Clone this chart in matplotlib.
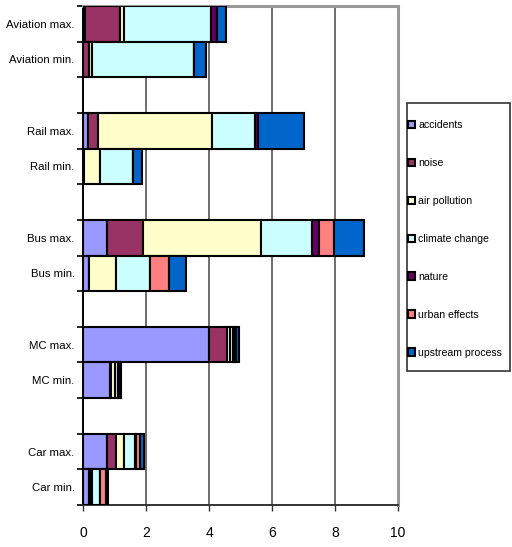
import numpy as np
import matplotlib.pyplot as plt
from matplotlib.patches import Rectangle

# external cost components per mode (same order as the stacked segments)
components = ['accidents', 'noise', 'air pollution', 'climate change',
              'nature', 'urban effects', 'upstream process']
colors = ['#9999FF', '#993366', '#FFFFCC', '#CCFFFF', '#660066', '#FF8080', '#0066CC']

modes = ['Aviation max.', 'Aviation min.', 'Rail max.', 'Rail min.',
         'Bus max.', 'Bus min.', 'MC max.', 'MC min.', 'Car max.', 'Car min.']

accidents      = [0.05, 0.00, 0.17, 0.02, 0.75, 0.20, 3.99, 0.86, 0.75, 0.20]
noise          = [1.12, 0.18, 0.32, 0.00, 1.14, 0.00, 0.57, 0.02, 0.30, 0.02]
air_pollution  = [0.13, 0.10, 3.61, 0.52, 3.75, 0.84, 0.10, 0.14, 0.25, 0.08]
climate_change = [2.75, 3.24, 1.35, 1.06, 1.64, 1.09, 0.10, 0.08, 0.35, 0.24]
nature         = [0.19, 0.00, 0.12, 0.00, 0.20, 0.00, 0.05, 0.00, 0.02, 0.00]
urban_effects  = [0.00, 0.00, 0.00, 0.00, 0.50, 0.61, 0.05, 0.08, 0.14, 0.19]
upstream       = [0.29, 0.37, 1.46, 0.26, 0.95, 0.53, 0.08, 0.04, 0.13, 0.07]

xticks = [0, 2, 4, 6, 8, 10]

series = [accidents, noise, air_pollution, climate_change, nature, urban_effects, upstream]

plt.rcParams['font.family'] = ['Liberation Sans', 'DejaVu Sans']

fig = plt.figure(figsize=(5.12, 5.47), dpi=100)
ax = fig.add_axes([83 / 512, 1 - 505 / 547, 315 / 512, 499 / 547])

# two bars per mode, one empty slot between modes
pos = []
for i in range(len(modes)):
    pos.append((i // 2) * 3 + i % 2)
pos = np.array(pos, dtype=float)

left = np.zeros(len(modes))
for vals, name, c in zip(series, components, colors):
    vals = np.array(vals)
    ax.barh(pos, vals, left=left, height=1.0, color=c, edgecolor='black',
            linewidth=1.5, label=name, zorder=3)
    left += vals

ax.set_xlim(0, 10)
ax.set_ylim(13.5, -0.5)
ax.set_xticks(xticks)
ax.set_xticklabels([str(t) for t in xticks], fontsize=10)
ax.tick_params(axis='x', length=4, width=1, color='#333333', pad=11)
ax.grid(axis='x', color='#555555', linewidth=1.2, zorder=0)

ax.set_yticks(pos)
ax.set_yticklabels(modes, fontsize=8.2)
ax.tick_params(axis='y', which='major', length=0, pad=6)
edges = sorted(set(list(pos - 0.5) + list(pos + 0.5)))
ax.set_yticks(edges, minor=True)
ax.tick_params(axis='y', which='minor', length=4, width=1.2, color='black')

ax.spines['left'].set_color('black')
ax.spines['left'].set_linewidth(1.4)
ax.spines['bottom'].set_color('#333333')
ax.spines['bottom'].set_linewidth(1.4)
ax.spines['top'].set_color('#999999')
ax.spines['top'].set_linewidth(2.2)
ax.spines['right'].set_color('#999999')
ax.spines['right'].set_linewidth(2.2)

# legend box on the right, drawn separately so entries sit close to its edge
fig.patches.append(Rectangle((407 / 512, 1 - 371 / 547), 103 / 512, 268 / 547,
                             transform=fig.transFigure, facecolor='white',
                             edgecolor='#333333', linewidth=1.2))
fig.legend(loc='upper left', bbox_to_anchor=(408 / 512, 1 - 120 / 547),
           fontsize=7.6, frameon=False, handlelength=0.7, handleheight=0.7,
           handletextpad=0.25, labelspacing=2.65, borderpad=0, borderaxespad=0)

fig.savefig('out.png', dpi=100)
